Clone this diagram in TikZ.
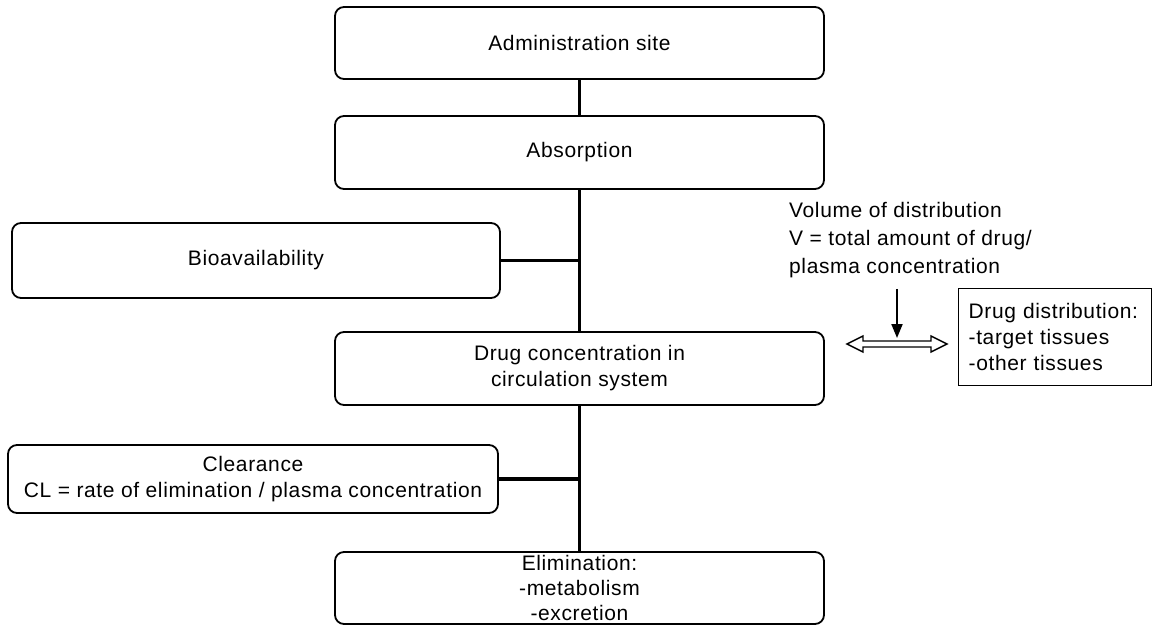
\documentclass[tikz,border=0pt]{standalone}
\usepackage{fontspec}
\setmainfont{Liberation Sans}[LetterSpace=3]
\usepackage{tikz}
\usetikzlibrary{arrows.meta, calc}
\tikzstyle{stepbox} = [rectangle, rounded corners=9pt, minimum width=489pt, minimum height=72pt,
  inner sep=0pt, align=center, draw=black, line width=1.8pt, font=\fontsize{21}{26}\selectfont]
\tikzstyle{infobox} = [rectangle, draw=black, line width=1.3pt, minimum height=97pt, text width=173pt,
  inner xsep=10pt, inner ysep=0pt, align=left, font=\fontsize{21}{26}\selectfont]
\tikzstyle{link} = [line width=3.5pt]
\tikzstyle{arrow} = [line width=2pt, -{Triangle[length=14pt, width=11pt]}]

\begin{document}
\begin{tikzpicture}[x=1pt, y=-1pt]
  \useasboundingbox (0,0) rectangle (1153,625);

  % Main chain
  \node (admin) [stepbox] at (579.5,43) {Administration site};
  \node (absorp) [stepbox, minimum height=73pt] at (579.5,152.5) {Absorption};
  \node (drugconc) [stepbox, minimum height=73pt] at (579.5,368.5)
    {Drug concentration in\\circulation system};
  \node (elim) [stepbox, font=\fontsize{21}{25}\selectfont] at (579.5,588)
    {Elimination:\\-metabolism\\-excretion};

  % Side boxes
  \node (bioavail) [stepbox, minimum width=488pt, minimum height=75pt] at (256,260.5) {Bioavailability};
  \node (clear) [stepbox, minimum width=490pt, minimum height=68pt] at (253,479)
    {Clearance\\CL = rate of elimination / plasma concentration};

  % Distribution
  \node (voltext) [anchor=west, align=left, inner sep=0pt, font=\fontsize{21}{28}\selectfont] at (789,240)
    {Volume of distribution\\V = total amount of drug/\\plasma concentration};
  \node (distbox) [infobox, anchor=north west] at (958,288)
    {Drug distribution:\\-target tissues\\-other tissues};
  \coordinate (dd) at (897,344);
  \coordinate (vtop) at ($(voltext.south -| dd)+(0,11)$);

  % Connectors
  \draw[link] (admin) -- (absorp);
  \draw[link] (absorp) -- (drugconc);
  \draw[link] (drugconc) -- (elim);
  \draw[link] (bioavail.east) -- (bioavail.east -| absorp);
  \draw[link] (clear.east) -- (clear.east -| drugconc);

  % Double arrow
  \draw[line width=1.4pt, fill=white] ($(dd)+(-50,0)$) -- ++(16,-8) -- ++(0,5) -- ++(68,0)
    -- ++(0,-5) -- ++(16,8) -- ++(-16,8) -- ++(0,-5) -- ++(-68,0) -- ++(0,5) -- cycle;
  \draw[arrow] (vtop) -- ($(dd)+(0,-6)$);
\end{tikzpicture}
\end{document}
